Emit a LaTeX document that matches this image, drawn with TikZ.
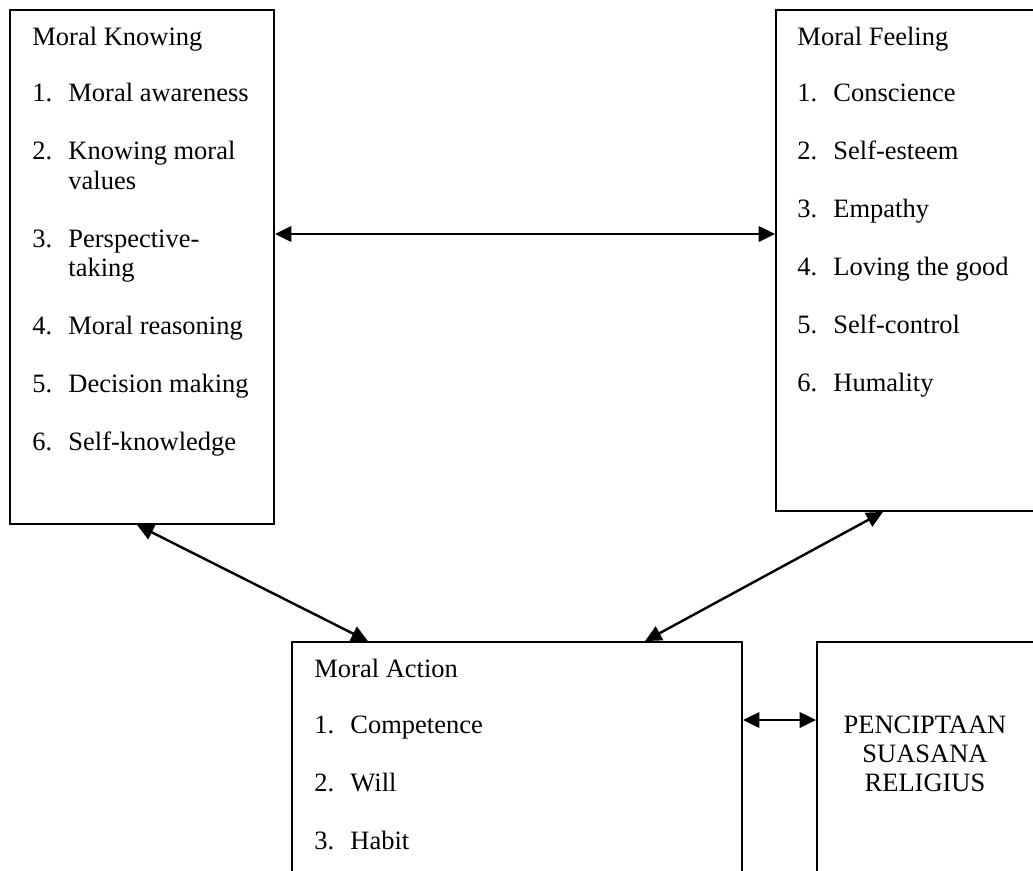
\documentclass[tikz,border=0pt]{standalone}
\usepackage{fontspec}
\setmainfont{Liberation Serif}
\usetikzlibrary{arrows.meta,fit}

\tikzset{
  box/.style={draw, line width=0.8pt, inner sep=0pt},
  txt/.style={anchor=base west, inner sep=0pt, font=\fontsize{12}{13.36}\selectfont},
  link/.style={<->, >={Triangle[length=7.5pt,width=7pt]}, line width=1.1pt},
}

\begin{document}
\begin{tikzpicture}[x=0.453pt, y=-0.453pt]
  \useasboundingbox (0,0) rectangle (1033,870);
  \clip (0,0) rectangle (1033,870);

  % boxes
  \node[box, fit={(10,10) (274,524)}] (kn) {};
  \node[box, fit={(776,10) (1040,511)}] (fe) {};
  \node[box, fit={(292,642) (742,900)}] (ac) {};
  \node[box, fit={(817,642) (1040,900)}] (pe) {};

  % texts
  \node[txt] (kntext) at (32,45) {\begin{tabular}[t]{@{}p{16.3pt}@{}l@{}}
    \multicolumn{2}{@{}l@{}}{Moral Knowing}\\[12.4pt]
    1. & Moral awareness\\[12.9pt]
    2. & Knowing moral\\
       & values\\[12.9pt]
    3. & Perspective-\\
       & taking\\[12.9pt]
    4. & Moral reasoning\\[12.9pt]
    5. & Decision making\\[12.9pt]
    6. & Self-knowledge
  \end{tabular}};
  \node[txt] (fetext) at (797,45) {\begin{tabular}[t]{@{}p{16.3pt}@{}l@{}}
    \multicolumn{2}{@{}l@{}}{Moral Feeling}\\[12.4pt]
    1. & Conscience\\[12.9pt]
    2. & Self-esteem\\[12.9pt]
    3. & Empathy\\[12.9pt]
    4. & Loving the good\\[12.9pt]
    5. & Self-control\\[12.9pt]
    6. & Humality
  \end{tabular}};
  \node[txt] (actext) at (314,677) {\begin{tabular}[t]{@{}p{16.3pt}@{}l@{}}
    \multicolumn{2}{@{}l@{}}{Moral Action}\\[12.4pt]
    1. & Competence\\[12.9pt]
    2. & Will\\[12.9pt]
    3. & Habit
  \end{tabular}};
  \node[txt, anchor=base] (petext) at (925,733) {\begin{tabular}[t]{@{}c@{}}
    PENCIPTAAN\\ SUASANA\\ RELIGIUS
  \end{tabular}};

  % arrows
  \draw[link] (kn.east |- 0,234) -- (fe.west |- 0,234);
  \draw[link] (kn.south -| 137,0) -- (ac.north -| 368,0);
  \draw[link] (fe.south -| 883,0) -- (ac.north -| 645,0);
  \draw[link] (ac.east |- 0,720) -- (pe.west |- 0,720);
\end{tikzpicture}
\end{document}
